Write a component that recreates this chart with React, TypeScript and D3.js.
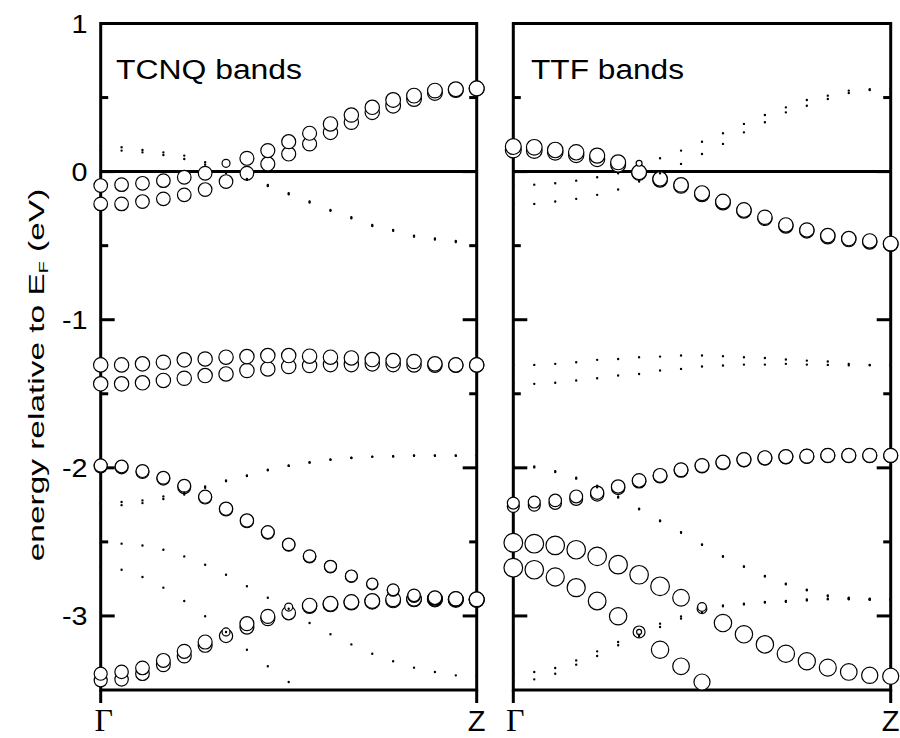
import * as d3 from 'd3';

// k-path sampled at 19 points from Γ (0) to Z (18)
const kIndex = d3.range(19);
const kLabels = ['Γ', 'Z'];
const majorTicks = [1, 0, -1, -2, -3];
const minorTicks = [0.5, -0.5, -1.5, -2.5];

// band energies (eV, relative to E_F)
const bandA = [-0.094, -0.088, -0.079, -0.061, -0.038, -0.011, 0.056, 0.09, 0.142, 0.202, 0.259, 0.322, 0.382, 0.434, 0.484, 0.513, 0.547, 0.556, 0.562];
const bandB = [-0.218, -0.218, -0.202, -0.184, -0.157, -0.121, -0.067, -0.011, 0.052, 0.119, 0.187, 0.265, 0.333, 0.4, 0.445, 0.49, 0.531, 0.551, 0.56];
const bandC1 = [0.169, 0.164, 0.146, 0.13, 0.108, 0.063, -0.004, -0.049, -0.09, -0.146, -0.202, -0.259, -0.308, -0.36, -0.394, -0.432, -0.452, -0.468, -0.486];
const bandC2 = [0.146, 0.142, 0.13, 0.112, 0.085, 0.047, -0.009, -0.056, -0.097, -0.153, -0.209, -0.265, -0.315, -0.367, -0.4, -0.439, -0.459, -0.475, -0.49];
const bandD1 = [-1.305, -1.305, -1.298, -1.287, -1.271, -1.265, -1.253, -1.249, -1.242, -1.242, -1.246, -1.253, -1.258, -1.269, -1.276, -1.282, -1.298, -1.305, -1.305];
const bandD2 = [-1.433, -1.433, -1.426, -1.41, -1.395, -1.377, -1.366, -1.343, -1.332, -1.316, -1.309, -1.303, -1.303, -1.298, -1.303, -1.305, -1.307, -1.307, -1.306];
const bandG1 = [-2.238, -2.231, -2.22, -2.193, -2.168, -2.126, -2.085, -2.051, -2.013, -1.984, -1.962, -1.944, -1.932, -1.924, -1.921, -1.916, -1.916, -1.916, -1.916];
const bandG2 = [-2.26, -2.252, -2.238, -2.21, -2.18, -2.135, -2.09, -2.055, -2.017, -1.987, -1.965, -1.946, -1.934, -1.926, -1.923, -1.918, -1.918, -1.918, -1.918];
const bandE1 = [-1.984, -1.991, -2.022, -2.067, -2.121, -2.195, -2.276, -2.355, -2.434, -2.517, -2.596, -2.665, -2.73, -2.782, -2.823, -2.861, -2.877, -2.884, -2.888];
const bandE2 = [-1.99, -1.997, -2.028, -2.073, -2.131, -2.2, -2.28, -2.36, -2.438, -2.52, -2.6, -2.668, -2.733, -2.786, -2.827, -2.866, -2.882, -2.888, -2.892];
const bandH1 = [-2.506, -2.512, -2.524, -2.553, -2.598, -2.654, -2.722, -2.8, -2.877, -2.951, -3.048, -3.124, -3.192, -3.255, -3.306, -3.349, -3.378, -3.401, -3.407];
const bandH2 = [-2.674, -2.688, -2.737, -2.809, -2.899, -3.002, -3.108, -3.228, -3.34, -3.446, null, null, null, null, null, null, null, null, null];
const bandF1 = [-3.39, -3.378, -3.351, -3.3, -3.239, -3.176, -3.108, -3.052, -3.003, -2.94, -2.929, -2.918, -2.906, -2.899, -2.888, -2.884, -2.884, -2.888, -2.888];
const bandF2 = [-3.435, -3.428, -3.39, -3.329, -3.27, -3.198, -3.135, -3.075, -3.018, -2.98, -2.935, -2.922, -2.91, -2.904, -2.895, -2.888, -2.888, -2.891, -2.891];

// projected weights (0 = only a dot)
const none = [0, 0, 0, 0, 0, 0, 0, 0, 0, 0, 0, 0, 0, 0, 0, 0, 0, 0, 0];
const wA_tcnq = [0.66, 0.66, 0.66, 0.66, 0.66, 0.66, 0.36, 0.68, 0.68, 0.68, 0.68, 0.7, 0.7, 0.7, 0.72, 0.72, 0.72, 0.73, 0.73];
const wB_tcnq = [0.66, 0.66, 0.66, 0.66, 0.66, 0.66, 0.66, 0.66, 0.68, 0.68, 0.68, 0.7, 0.7, 0.7, 0.72, 0.72, 0.72, 0.73, 0.73];
const wD_tcnq = [0.7, 0.7, 0.7, 0.7, 0.7, 0.7, 0.7, 0.7, 0.7, 0.7, 0.7, 0.7, 0.7, 0.7, 0.7, 0.7, 0.7, 0.7, 0.7];
const wE_tcnq = [0.63, 0.62, 0.62, 0.62, 0.62, 0.63, 0.64, 0.64, 0.62, 0.6, 0.6, 0.58, 0.57, 0.53, 0.56, 0.6, 0.66, 0.7, 0.72];
const wF1_tcnq = [0.63, 0.65, 0.66, 0.67, 0.68, 0.68, 0.36, 0.68, 0.68, 0.36, 0.7, 0.72, 0.72, 0.72, 0.72, 0.72, 0.73, 0.73, 0.73];
const wF2_tcnq = [0.63, 0.65, 0.66, 0.67, 0.68, 0.68, 0.64, 0.68, 0.68, 0.66, 0.7, 0.72, 0.72, 0.72, 0.72, 0.72, 0.73, 0.73, 0.73];
const wA_ttf = [0, 0, 0, 0, 0, 0, 0.25, 0, 0, 0, 0, 0, 0, 0, 0, 0, 0, 0, 0];
const wC_ttf = [0.78, 0.77, 0.76, 0.75, 0.74, 0.73, 0.72, 0.71, 0.71, 0.73, 0.72, 0.71, 0.7, 0.7, 0.7, 0.7, 0.7, 0.7, 0.72];
const wG_ttf = [0.57, 0.57, 0.6, 0.62, 0.64, 0.65, 0.66, 0.67, 0.67, 0.67, 0.68, 0.68, 0.68, 0.68, 0.68, 0.68, 0.68, 0.68, 0.68];
const wH1_ttf = [0.93, 0.93, 0.92, 0.92, 0.92, 0.92, 0.92, 0.93, 0.82, 0.45, 0.86, 0.86, 0.86, 0.86, 0.85, 0.84, 0.82, 0.8, 0.79];
const wH2_ttf = [0.93, 0.92, 0.9, 0.9, 0.88, 0.86, 0.57, 0.86, 0.82, 0.79, 0, 0, 0, 0, 0, 0, 0, 0, 0];
const wF1_ttf = [0, 0, 0, 0, 0, 0, 0.2, 0, 0, 0.4, 0, 0, 0, 0, 0, 0, 0, 0, 0];

const bands = [
  { e: bandA, tcnq: wA_tcnq, ttf: wA_ttf },
  { e: bandB, tcnq: wB_tcnq, ttf: none },
  { e: bandC1, tcnq: none, ttf: wC_ttf },
  { e: bandC2, tcnq: none, ttf: wC_ttf },
  { e: bandD1, tcnq: wD_tcnq, ttf: none },
  { e: bandD2, tcnq: wD_tcnq, ttf: none },
  { e: bandG1, tcnq: none, ttf: wG_ttf },
  { e: bandG2, tcnq: none, ttf: wG_ttf },
  { e: bandE1, tcnq: wE_tcnq, ttf: none },
  { e: bandE2, tcnq: wE_tcnq, ttf: none },
  { e: bandH1, tcnq: none, ttf: wH1_ttf },
  { e: bandH2, tcnq: none, ttf: wH2_ttf },
  { e: bandF1, tcnq: wF1_tcnq, ttf: wF1_ttf },
  { e: bandF2, tcnq: wF2_tcnq, ttf: none },
];

const panels = [
  { title: 'TCNQ bands', key: 'tcnq', x0: 100.7, x1: 476.7, titleX: 116, titleLen: 186 },
  { title: 'TTF bands', key: 'ttf', x0: 513.3, x1: 890.7, titleX: 531, titleLen: 153 },
];

const W = 900;
const H = 738;
const Y_TOP = 23.5;
const Y_BOT = 690;
const SANS = "'Liberation Sans', Arial, sans-serif";
const SERIF = "'Liberation Serif', 'Times New Roman', serif";

export default function App() {
  const y = d3.scaleLinear().domain([-3.5, 1]).range([Y_BOT, Y_TOP]);
  const r = d3.scaleLinear().domain([0, 1]).range([0.6, 10]);

  return (
    <svg width={W} height={H} style={{ position: 'absolute', left: 0, top: 0, background: '#fff' }} fontFamily={SANS}>
      {panels.map((p) => {
        const x = d3.scaleLinear().domain([0, kIndex.length - 1]).range([p.x0, p.x1]);
        const pts: { cx: number; cy: number; r: number; e: number }[] = [];
        bands.forEach((b) => {
          kIndex.forEach((i) => {
            const e = b.e[i];
            if (e == null) return;
            pts.push({ cx: x(i), cy: y(e), r: r(b[p.key][i]), e });
          });
        });
        // big markers first so the small ones stay visible
        pts.sort((a, b) => b.r - a.r || a.e - b.e);

        return (
          <g key={p.key}>
            <rect x={p.x0} y={Y_TOP} width={p.x1 - p.x0} height={Y_BOT - Y_TOP} fill="none" stroke="#000" strokeWidth={3} />
            {/* k-point ticks below the frame */}
            {[p.x0, p.x1].map((xx, j) => (
              <line key={j} x1={xx} x2={xx} y1={Y_BOT} y2={Y_BOT + 13} stroke="#000" strokeWidth={3} />
            ))}
            {/* E_F line */}
            <line x1={p.x0} x2={p.x1} y1={y(0)} y2={y(0)} stroke="#000" strokeWidth={3} />
            {majorTicks.concat(minorTicks).map((v) => {
              const len = Number.isInteger(v) ? 14 : 7.5;
              return (
                <g key={v}>
                  <line x1={p.x0} x2={p.x0 + len} y1={y(v)} y2={y(v)} stroke="#000" strokeWidth={3} />
                  <line x1={p.x1} x2={p.x1 - len} y1={y(v)} y2={y(v)} stroke="#000" strokeWidth={3} />
                </g>
              );
            })}
            <text x={p.titleX} y={79} fontSize={27} textLength={p.titleLen} lengthAdjust="spacingAndGlyphs" fill="#000">{p.title}</text>
            {pts.map((d, i) => (
              <circle key={i} cx={d.cx} cy={d.cy} r={d.r} fill="#fff" stroke="#000" strokeWidth={1.2} />
            ))}
            <text x={p.x0 + (p.key === 'tcnq' ? 3 : 2)} y={731} textAnchor="middle" fontFamily={SERIF} fontSize={32}>{kLabels[0]}</text>
            <text x={p.x1} y={731} textAnchor="middle" fontSize={29}>{kLabels[1]}</text>
          </g>
        );
      })}
      {majorTicks.map((v) => (
        <text key={v} transform={`translate(87.5,${y(v) + 9}) scale(1.15,1)`} textAnchor="end" fontSize={25}>{v}</text>
      ))}
      <text transform="translate(44,375) rotate(-90) scale(1.52,1)" textAnchor="middle" fontSize={22}>
        energy relative to E<tspan fontSize={13} dy={4}>F</tspan><tspan dy={-4}> (eV)</tspan>
      </text>
    </svg>
  );
}
